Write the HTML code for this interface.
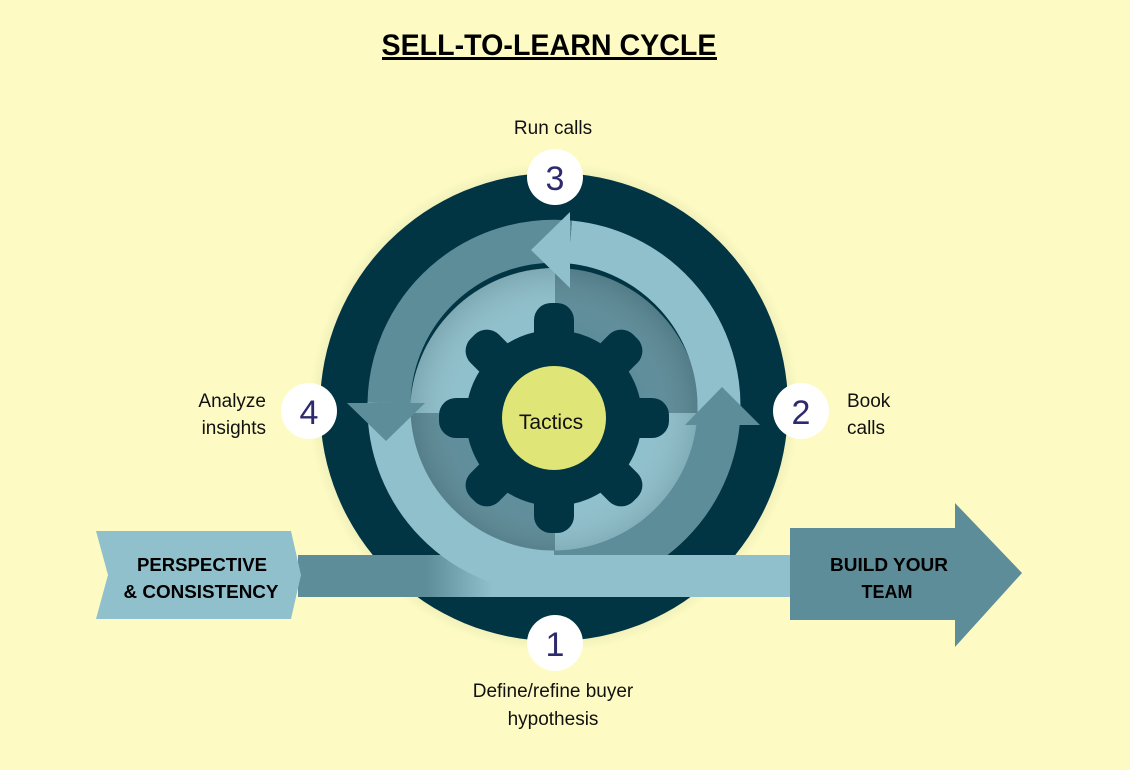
<!DOCTYPE html>
<html><head><meta charset="utf-8"><style>
html,body{margin:0;padding:0;background:#fdfbc3;}
svg{display:block;font-family:"Liberation Sans",sans-serif;}
</style></head><body>
<svg width="1130" height="770" viewBox="0 0 1130 770">
<defs>
<radialGradient id="glow" cx="0.5" cy="0.5" r="0.5">
<stop offset="0.8" stop-color="#000" stop-opacity="0.18"/><stop offset="1" stop-color="#000" stop-opacity="0"/>
</radialGradient>
<radialGradient id="inner" cx="0.5" cy="0.5" r="0.5">
<stop offset="0.6" stop-color="#fff" stop-opacity="0"/><stop offset="1" stop-color="#000" stop-opacity="0.12"/>
</radialGradient>
<linearGradient id="hband" x1="0" x2="1" y1="0" y2="0">
<stop offset="0" stop-color="#5e8d9a"/><stop offset="0.25" stop-color="#5e8d9a"/><stop offset="0.38" stop-color="#8fc0cc"/><stop offset="1" stop-color="#8fc0cc"/>
</linearGradient>
</defs>
<rect width="1130" height="770" fill="#fdfbc3"/>
<text x="549" y="55" text-anchor="middle" font-size="30" font-weight="bold" textLength="335" lengthAdjust="spacingAndGlyphs" fill="#000">SELL-TO-LEARN CYCLE</text>
<rect x="382" y="57" width="335" height="3" fill="#000"/>

<circle cx="554" cy="407" r="245" fill="url(#glow)"/>
<circle cx="554" cy="407" r="234" fill="#023543"/>

<g>
<path d="M555 413 L555 268 A145 145 0 0 0 410 413 Z" fill="#8fc0cc"/>
<path d="M555 413 L555 268 A145 145 0 0 1 700 413 Z" fill="#5e8d9a"/>
<path d="M555 413 L410 413 A145 145 0 0 0 555 558 Z" fill="#5e8d9a"/>
<path d="M555 413 L700 413 A145 145 0 0 1 555 558 Z" fill="#8fc0cc"/>
<circle cx="555" cy="413" r="145" fill="url(#inner)"/>
</g>

<g fill="none" stroke-width="43">
<path d="M554 572 A165 165 0 0 0 719 407 L719 425" stroke="#5e8d9a"/>
<path d="M719 425 L719 407 A165 165 0 0 0 570 242" stroke="#8fc0cc"/>
<path d="M570 242 A165 165 0 0 0 389 403" stroke="#5e8d9a"/>
</g>
<rect x="298" y="555" width="512" height="42" fill="url(#hband)"/>
<path d="M389 403 A165 165 0 0 0 554 572" fill="none" stroke="#8fc0cc" stroke-width="43"/>
<rect x="550" y="555" width="260" height="42" fill="#8fc0cc"/>
<polygon points="685,425 760,425 722,387" fill="#5e8d9a"/>
<polygon points="570,212 570,288 531,250" fill="#8fc0cc"/>
<polygon points="347,403 425,403 386,441" fill="#5e8d9a"/>

<g fill="#023543" transform="translate(554,418)">
<circle r="88"/>
<g>
<rect x="-20" y="-115" width="40" height="60" rx="17"/>
<rect x="-20" y="-115" width="40" height="60" rx="17" transform="rotate(45)"/>
<rect x="-20" y="-115" width="40" height="60" rx="17" transform="rotate(90)"/>
<rect x="-20" y="-115" width="40" height="60" rx="17" transform="rotate(135)"/>
<rect x="-20" y="-115" width="40" height="60" rx="17" transform="rotate(180)"/>
<rect x="-20" y="-115" width="40" height="60" rx="17" transform="rotate(225)"/>
<rect x="-20" y="-115" width="40" height="60" rx="17" transform="rotate(270)"/>
<rect x="-20" y="-115" width="40" height="60" rx="17" transform="rotate(315)"/>
</g>
<circle r="52" fill="#dfe576"/>
</g>
<text x="551" y="429" text-anchor="middle" font-size="21" fill="#111">Tactics</text>

<g fill="#fff">
<circle cx="555" cy="177" r="28"/><circle cx="555" cy="643" r="28"/>
<circle cx="309" cy="411" r="28"/><circle cx="801" cy="411" r="28"/>
</g>
<g font-size="34" fill="#2e2a6e" text-anchor="middle">
<text x="555" y="190">3</text><text x="555" y="656">1</text>
<text x="309" y="424">4</text><text x="801" y="424">2</text>
</g>

<g font-size="19" fill="#111">
<text x="553" y="134" text-anchor="middle">Run calls</text>
<text x="266" y="407" text-anchor="end">Analyze</text>
<text x="266" y="434" text-anchor="end">insights</text>
<text x="847" y="407">Book</text>
<text x="847" y="434">calls</text>
<text x="553" y="697" text-anchor="middle">Define/refine buyer</text>
<text x="553" y="725" text-anchor="middle">hypothesis</text>
</g>

<polygon points="96,531 291,531 301,575 291,619 96,619 108,575" fill="#8fc0cc"/>
<g font-size="18" font-weight="bold" fill="#000" text-anchor="middle">
<text x="202" y="571" textLength="130" lengthAdjust="spacingAndGlyphs">PERSPECTIVE</text>
<text x="201" y="598" textLength="155" lengthAdjust="spacingAndGlyphs">&amp; CONSISTENCY</text>
</g>
<polygon points="790,528 955,528 955,503 1022,573 955,647 955,620 790,620" fill="#5e8d9a"/>
<g font-size="18" font-weight="bold" fill="#000" text-anchor="middle">
<text x="889" y="571" textLength="118" lengthAdjust="spacingAndGlyphs">BUILD YOUR</text>
<text x="887" y="598">TEAM</text>
</g>
</svg>
</body></html>
